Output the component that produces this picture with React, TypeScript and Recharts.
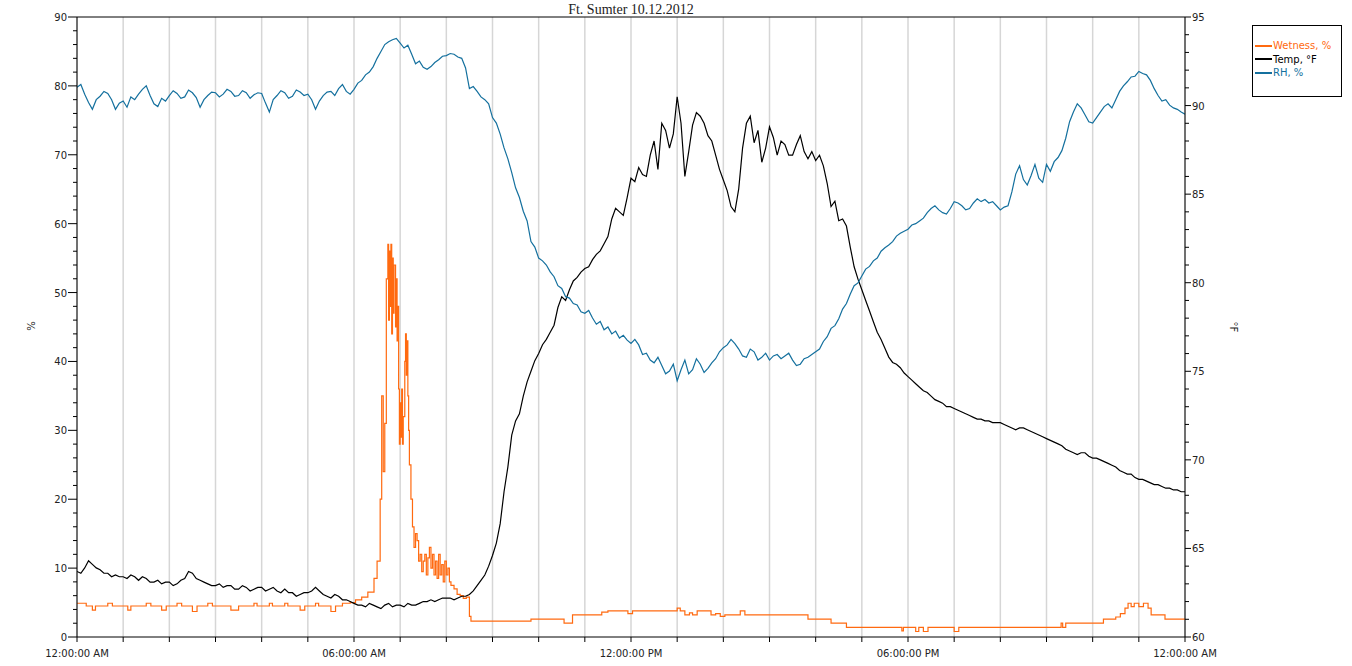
import React from 'react';
import {
  LineChart, Line, XAxis, YAxis, CartesianGrid, Legend, ReferenceLine
} from 'recharts';

const W = 1352;
const H = 666;
// plot box in page pixels
const PLOT = { left: 77, top: 17, right: 1185, bottom: 637 };
const AXIS_W = 40;
const X_AXIS_H = 20;

const FONT = '"DejaVu Sans", Verdana, sans-serif';
const TITLE = 'Ft. Sumter 10.12.2012';

const SERIES = [
  { key: 'wet', name: 'Wetness, %', color: '#ff6a10' },
  { key: 'temp', name: 'Temp, °F', color: '#000000' },
  { key: 'rh', name: 'RH, %', color: '#14709e' },
];

// readings every 5 minutes, 00:00 .. 24:00 (one row per hour)
const STEP_MIN = 5;

const rhValues = [
  79.8, 80.2, 78.8, 77.6, 76.6, 78.0, 78.5, 79.2, 78.9, 78.0, 76.6, 77.5,
  77.8, 76.9, 78.4, 78.0, 78.8, 79.5, 80.0, 78.6, 77.4, 77.0, 78.2, 77.8,
  78.6, 79.3, 78.9, 78.2, 78.4, 79.4, 79.0, 78.3, 76.9, 78.0, 78.6, 79.1,
  79.0, 78.4, 78.8, 79.5, 79.2, 78.5, 78.6, 79.3, 79.0, 78.2, 78.7, 79.0,
  78.9, 77.5, 76.2, 78.0, 78.6, 79.3, 79.0, 78.2, 78.5, 79.4, 79.1, 78.6,
  78.8, 78.0, 76.6, 77.8, 78.6, 79.1, 79.2, 78.6, 79.6, 80.2, 79.2, 78.8,
  79.5, 80.4, 80.8, 81.6, 82.0, 82.8, 84.0, 85.0, 86.0, 86.4, 86.7, 86.9,
  86.2, 85.5, 85.9, 84.6, 83.2, 83.6, 82.7, 82.4, 82.8, 83.4, 83.8, 84.3,
  84.4, 84.7, 84.6, 84.2, 84.0, 82.6, 79.6, 79.9, 79.2, 78.4, 78.0, 77.4,
  75.4, 74.6, 73.0, 71.0, 69.4, 67.4, 65.2, 63.8, 61.8, 60.4, 57.4, 56.6,
  55.0, 54.6, 54.0, 53.0, 52.3, 51.0, 50.6, 49.4, 49.2, 48.4, 48.2, 47.2,
  47.0, 47.4, 46.3, 45.4, 45.8, 44.6, 45.0, 44.0, 44.4, 43.4, 43.8, 43.1,
  42.6, 43.2, 42.4, 41.0, 41.2, 40.2, 39.8, 40.6, 39.4, 38.2, 38.6, 39.6,
  37.2, 38.8, 40.2, 38.2, 38.8, 40.4, 39.6, 38.4, 39.0, 39.8, 40.4, 41.4,
  42.0, 42.4, 43.2, 42.6, 41.8, 40.8, 40.6, 41.8, 41.4, 40.2, 40.6, 41.2,
  40.2, 40.8, 41.0, 40.4, 40.8, 41.2, 40.2, 39.4, 39.6, 40.4, 40.6, 41.0,
  41.4, 41.8, 42.9, 43.6, 44.8, 45.2, 46.2, 47.6, 48.4, 49.8, 51.0, 51.4,
  52.4, 53.4, 53.8, 54.6, 55.0, 56.0, 56.5, 56.9, 57.4, 58.2, 58.6, 58.9,
  59.2, 59.8, 60.0, 60.4, 60.8, 61.6, 62.2, 62.6, 62.0, 61.6, 61.4, 62.2,
  63.2, 63.0, 62.6, 62.0, 62.2, 63.0, 63.6, 63.2, 63.5, 63.0, 63.2, 62.6,
  62.0, 62.4, 62.6, 64.6, 67.2, 68.4, 66.4, 65.6, 67.0, 68.6, 66.6, 66.0,
  68.6, 67.6, 69.0, 69.6, 70.6, 72.4, 74.8, 76.2, 77.4, 76.8, 75.8, 74.8,
  74.6, 75.4, 76.2, 77.0, 77.4, 76.8, 78.0, 79.2, 80.0, 80.6, 81.3, 81.4,
  82.1, 81.8, 81.6, 80.8, 79.6, 78.6, 77.8, 78.0, 77.2, 76.8, 76.6, 76.2,
  75.9,
];

const tempValues = [
  63.7, 63.6, 63.9, 64.3, 64.1, 63.9, 63.8, 63.6, 63.6, 63.4, 63.5, 63.4,
  63.4, 63.3, 63.5, 63.4, 63.2, 63.4, 63.3, 63.1, 63.1, 63.2, 63.0, 63.1,
  63.1, 62.9, 63.0, 63.2, 63.3, 63.7, 63.6, 63.3, 63.2, 63.1, 63.0, 62.9,
  62.9, 63.0, 62.8, 62.9, 62.9, 62.7, 62.7, 62.9, 62.8, 62.6, 62.7, 62.8,
  62.8, 62.6, 62.7, 62.8, 62.6, 62.5, 62.7, 62.5, 62.5, 62.3, 62.4, 62.5,
  62.5, 62.6, 62.8, 62.6, 62.4, 62.3, 62.2, 62.4, 62.3, 62.1, 62.1, 62.0,
  61.9, 61.8, 61.8, 61.7, 61.9, 61.8, 61.7, 61.6, 61.8, 61.9, 61.7, 61.8,
  61.8, 61.7, 61.9, 61.8, 61.8, 61.9, 62.0, 62.0, 62.1, 62.0, 62.1, 62.2,
  62.2, 62.2, 62.1, 62.2, 62.3, 62.3, 62.4, 62.6, 62.9, 63.2, 63.5, 64.0,
  64.6, 65.3, 66.4, 68.2, 69.6, 71.4, 72.2, 72.6, 73.6, 74.4, 75.0, 75.6,
  76.0, 76.5, 76.8, 77.2, 77.6, 78.6, 79.2, 79.0, 79.6, 80.1, 80.3, 80.6,
  80.8, 80.9, 81.3, 81.6, 81.8, 82.2, 82.6, 83.6, 84.2, 84.0, 83.8, 84.8,
  85.9, 85.7, 86.5, 86.1, 86.0, 87.2, 88.0, 86.4, 89.0, 88.6, 87.6, 88.4,
  90.5, 89.0, 86.0, 87.4, 88.9, 89.6, 89.4, 89.0, 88.3, 88.0, 87.2, 86.4,
  85.8, 85.2, 84.3, 84.0, 85.3, 87.6, 89.0, 89.4, 87.9, 88.6, 86.8, 87.6,
  88.8, 88.2, 87.2, 88.0, 87.8, 87.2, 87.2, 87.8, 88.3, 87.4, 87.0, 87.4,
  86.9, 87.2, 86.6, 85.6, 84.3, 84.6, 83.5, 83.6, 83.2, 82.0, 80.9, 80.2,
  79.6, 79.0, 78.4, 77.8, 77.2, 76.8, 76.3, 75.8, 75.5, 75.4, 75.2, 74.9,
  74.7, 74.5, 74.3, 74.1, 73.9, 73.8, 73.6, 73.4, 73.3, 73.2, 73.0, 73.0,
  72.9, 72.8, 72.7, 72.6, 72.5, 72.4, 72.3, 72.3, 72.2, 72.2, 72.1, 72.1,
  72.1, 72.0, 71.9, 71.8, 71.7, 71.8, 71.8, 71.7, 71.6, 71.5, 71.4, 71.3,
  71.2, 71.1, 71.0, 70.9, 70.8, 70.6, 70.5, 70.4, 70.3, 70.4, 70.4, 70.2,
  70.1, 70.1, 70.0, 69.9, 69.8, 69.7, 69.6, 69.4, 69.3, 69.2, 69.2, 69.0,
  68.9, 68.9, 68.8, 68.7, 68.6, 68.6, 68.5, 68.4, 68.4, 68.3, 68.3, 68.2,
  68.2,
];

// wetness is logged on change: minute of day -> value
const wetMinutes = [
  0, 12, 20, 24, 40, 46, 66, 70, 90, 96, 110, 116, 130, 136, 150, 156, 170, 176,
  200, 210, 230, 234, 250, 254, 270, 274, 290, 296, 310, 314, 330, 336, 345, 355,
  362, 370, 378, 386, 390, 394, 396, 398, 400, 402, 404, 405, 406, 407, 408, 409,
  410, 411, 412, 414, 415, 416, 417, 418, 419, 420, 421, 422, 423, 424, 426, 427,
  428, 429, 430, 431, 432, 434, 436, 438, 440, 442, 444, 446, 448, 450, 452, 454,
  456, 458, 460, 462, 464, 466, 468, 470, 472, 474, 476, 478, 480, 482, 484, 486,
  490, 494, 498, 502, 506, 510, 512, 590, 633, 644, 682, 690, 716, 722, 780, 784,
  790, 796, 800, 806, 824, 830, 836, 842, 862, 868, 950, 980, 1000, 1072, 1074,
  1090, 1094, 1100, 1106, 1140, 1146, 1279, 1281, 1285, 1334, 1350, 1356, 1362,
  1366, 1370, 1374, 1380, 1386, 1392, 1396, 1414, 1440,
];

const wetValues = [
  4.9, 4.5, 3.9, 4.5, 4.9, 4.5, 3.9, 4.5, 4.9, 4.5, 3.9, 4.5, 4.9, 4.5, 3.7, 4.5, 4.9, 4.5,
  3.9, 4.5, 4.9, 4.5, 4.9, 4.5, 4.9, 4.5, 3.9, 4.5, 4.9, 4.5, 3.7, 4.5, 4.9, 5.0,
  5.4, 5.8, 6.5, 8.5, 11, 20, 35, 24, 31, 52, 57, 46, 56, 48, 57, 44,
  55, 47, 54, 45, 52, 43, 48, 36, 28, 34, 29, 36, 28, 32, 40, 44,
  38, 43, 35, 30, 25, 20, 16, 13, 15, 14, 11, 12, 9.5, 11, 12, 9,
  11.5, 13, 10, 12, 9, 11, 8.5, 12, 9, 10.5, 8, 11, 9, 10, 8, 7.5,
  7, 6.2, 6.0, 5.6, 5.8, 3.0, 2.3, 2.6, 2.0, 3.2, 3.6, 3.8, 3.4, 3.8, 4.2, 3.8,
  3.2, 3.5, 3.2, 3.8, 3.2, 3.4, 3.0, 3.2, 3.8, 3.2, 2.6, 2.0, 1.4, 0.9, 1.4,
  0.8, 1.4, 0.8, 1.4, 0.8, 1.4, 2.0, 1.4, 2.0, 2.6, 2.9, 3.4, 4.2,
  4.9, 4.4, 4.9, 4.4, 4.9, 4.2, 3.2, 2.6, 2.6,
];

const xTicks = Array.from({ length: 25 }, (_, i) => i * 60);
const xTickLabels: Record<number, string> = {
  0: '12:00:00 AM',
  360: '06:00:00 AM',
  720: '12:00:00 PM',
  1080: '06:00:00 PM',
  1440: '12:00:00 AM',
};
const leftTicks = Array.from({ length: 46 }, (_, i) => i * 2);
const rightTicks = Array.from({ length: 36 }, (_, i) => 60 + i);

const rhData = rhValues.map((v, i) => ({ t: i * STEP_MIN, v }));
const tempData = tempValues.map((v, i) => ({ t: i * STEP_MIN, v }));
const wetData = wetMinutes.map((t, i) => ({ t, v: wetValues[i] }));

const tickText = { fontFamily: FONT, fontSize: 10, fill: '#222' };

// eslint-disable-next-line @typescript-eslint/no-explicit-any
function XTick({ x, y, payload }: any) {
  const label = xTickLabels[payload.value];
  return (
    <g>
      <line x1={x} x2={x} y1={y} y2={y + 5} stroke="#000" />
      {label && (
        <text x={x} y={y + 20} textAnchor="middle" {...tickText}>{label}</text>
      )}
    </g>
  );
}

// eslint-disable-next-line @typescript-eslint/no-explicit-any
function LeftTick({ x, y, payload }: any) {
  const major = payload.value % 10 === 0;
  return (
    <g>
      <line x1={x} x2={x - (major ? 9 : 4)} y1={y} y2={y} stroke="#000" />
      {major && (
        <text x={x - 10} y={y + 4} textAnchor="end" {...tickText}>{payload.value}</text>
      )}
    </g>
  );
}

// eslint-disable-next-line @typescript-eslint/no-explicit-any
function RightTick({ x, y, payload }: any) {
  const major = payload.value % 5 === 0;
  return (
    <g>
      <line x1={x} x2={x + (major ? 6 : 4)} y1={y} y2={y} stroke="#000" />
      {major && (
        <text x={x + 7} y={y + 4} textAnchor="start" {...tickText}>{payload.value}</text>
      )}
    </g>
  );
}

function LegendBox() {
  return (
    <div
      style={{
        width: 90, height: 72, border: '1px solid #000', boxSizing: 'border-box',
        background: '#fff', padding: '13px 0 0 2px', fontFamily: FONT, fontSize: 10,
      }}
    >
      {SERIES.map(s => (
        <div key={s.key} style={{ display: 'flex', alignItems: 'center', height: 13.5, color: s.color }}>
          <span style={{ display: 'inline-block', width: 17, height: 2, background: s.color, marginRight: 1 }} />
          {s.name}
        </div>
      ))}
    </div>
  );
}

export default function App() {
  return (
    <div style={{ position: 'absolute', left: 0, top: 0, width: W, height: H, background: '#fff' }}>
      <div
        style={{
          position: 'absolute', left: 0, top: 2, width: 2 * ((PLOT.left + PLOT.right) / 2),
          textAlign: 'center', fontFamily: '"Liberation Serif", serif', fontSize: 14,
          lineHeight: '16px', color: '#222', zIndex: 2,
        }}
      >
        {TITLE}
      </div>
      <div
        style={{
          position: 'absolute', left: 31, top: 326, transform: 'translate(-50%, -50%) rotate(-90deg)',
          fontFamily: FONT, fontSize: 10, color: '#222', zIndex: 2,
        }}
      >
        %
      </div>
      <div
        style={{
          position: 'absolute', left: 1233, top: 327, transform: 'translate(-50%, -50%) rotate(90deg)',
          fontFamily: FONT, fontSize: 10, color: '#222', zIndex: 2,
        }}
      >
        °F
      </div>
      <LineChart
        width={W}
        height={H}
        margin={{
          top: PLOT.top,
          left: PLOT.left - AXIS_W,
          right: W - PLOT.right - AXIS_W,
          bottom: H - PLOT.bottom - X_AXIS_H,
        }}
      >
        <CartesianGrid horizontal={false} stroke="#d6d6d6" strokeWidth={1.5} yAxisId="left" />
        <XAxis
          dataKey="t"
          type="number"
          domain={[0, 1440]}
          ticks={xTicks}
          interval={0}
          height={X_AXIS_H}
          tickLine={false}
          tickSize={0}
          tickMargin={0}
          tick={XTick}
          axisLine={{ stroke: '#000' }}
          allowDataOverflow
        />
        <YAxis
          yAxisId="left"
          type="number"
          domain={[0, 90]}
          ticks={leftTicks}
          interval={0}
          width={AXIS_W}
          tickLine={false}
          tickSize={0}
          tickMargin={0}
          tick={LeftTick}
          axisLine={{ stroke: '#000' }}
        />
        <YAxis
          yAxisId="right"
          orientation="right"
          type="number"
          domain={[60, 95]}
          ticks={rightTicks}
          interval={0}
          width={AXIS_W}
          tickLine={false}
          tickSize={0}
          tickMargin={0}
          tick={RightTick}
          axisLine={{ stroke: '#000' }}
        />
        <ReferenceLine yAxisId="left" y={90} stroke="#000" />
        <Legend
          layout="vertical"
          align="center"
          verticalAlign="middle"
          content={LegendBox}
          wrapperStyle={{ position: 'absolute', left: 1252, top: 25, width: 90, height: 72 }}
        />
        <Line
          yAxisId="left"
          data={wetData}
          dataKey="v"
          name="Wetness, %"
          type="stepAfter"
          stroke={SERIES[0].color}
          strokeWidth={1.2}
          dot={false}
          activeDot={false}
          isAnimationActive={false}
        />
        <Line
          yAxisId="right"
          data={tempData}
          dataKey="v"
          name="Temp, °F"
          type="linear"
          stroke={SERIES[1].color}
          strokeWidth={1.2}
          dot={false}
          activeDot={false}
          isAnimationActive={false}
        />
        <Line
          yAxisId="left"
          data={rhData}
          dataKey="v"
          name="RH, %"
          type="linear"
          stroke={SERIES[2].color}
          strokeWidth={1.2}
          dot={false}
          activeDot={false}
          isAnimationActive={false}
        />
      </LineChart>
    </div>
  );
}
